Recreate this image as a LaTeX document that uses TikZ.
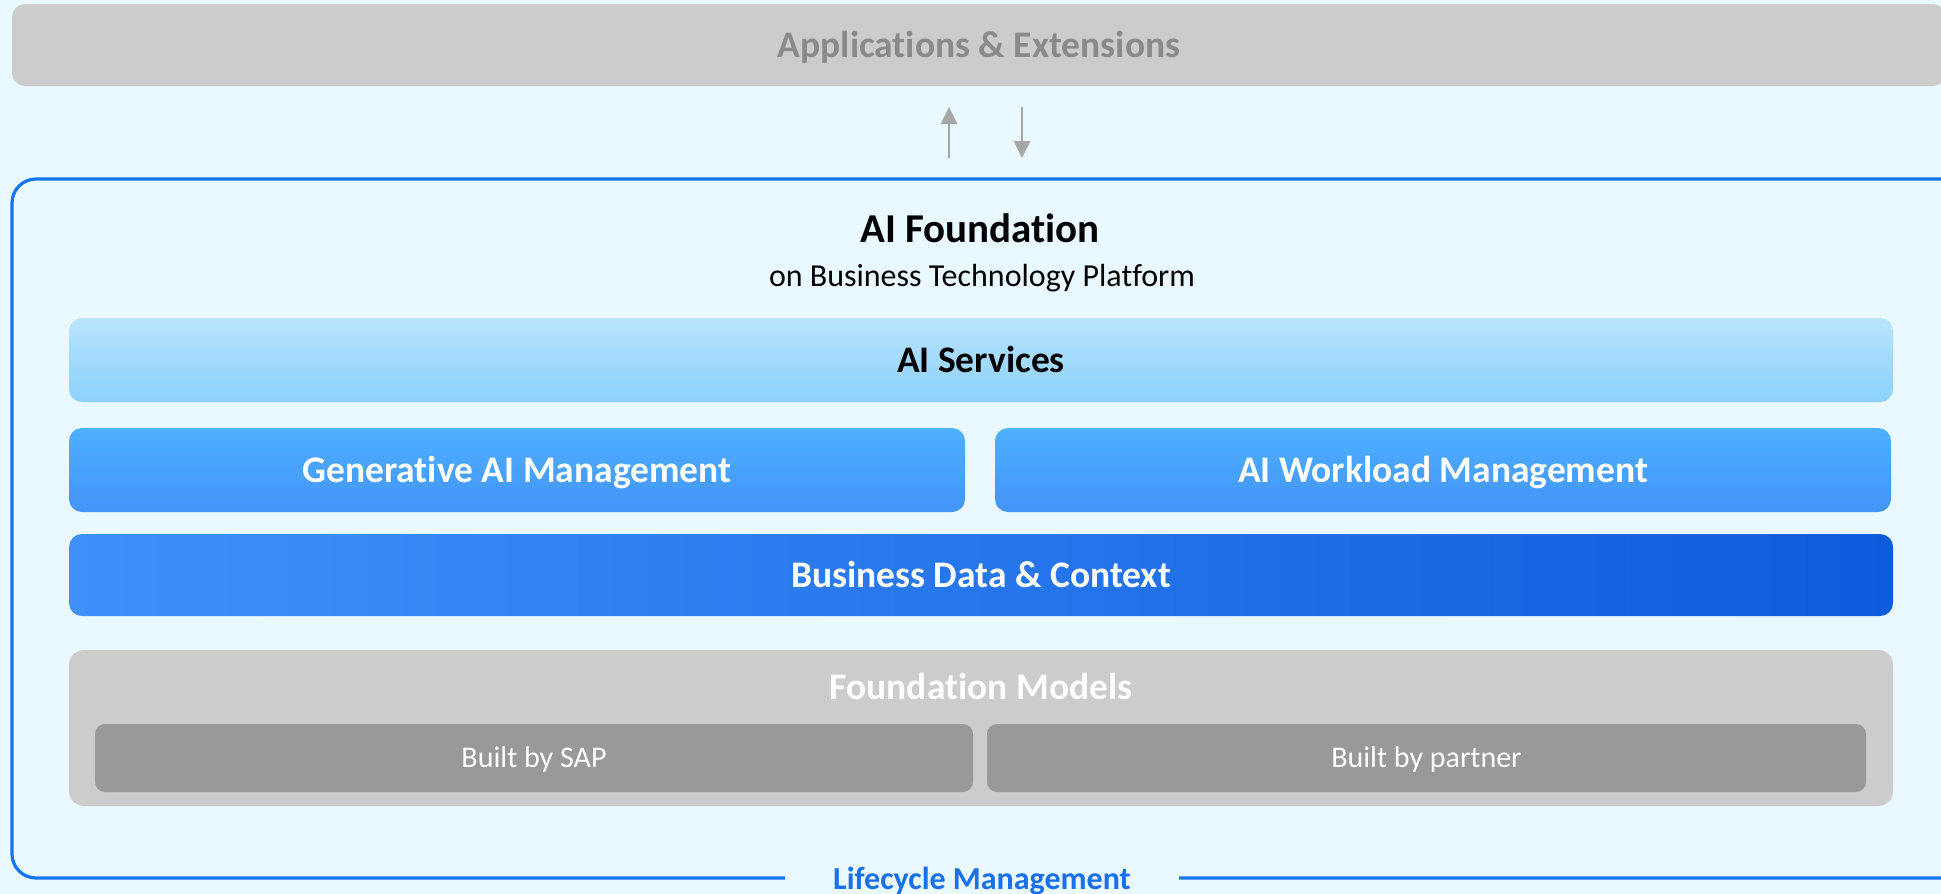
\documentclass[tikz,border=0pt]{standalone}
\usepackage{fontspec}
\setmainfont[RawFeature=-liga]{Carlito}
\usetikzlibrary{arrows.meta}
\definecolor{bg}{RGB}{234,248,255}
\definecolor{topgray}{RGB}{204,204,204}
\definecolor{toptext}{RGB}{138,138,138}
\definecolor{arrowgray}{RGB}{166,166,166}
\definecolor{frameblue}{RGB}{20,117,240}
\definecolor{svcTop}{RGB}{185,228,253}
\definecolor{svcBot}{RGB}{140,209,252}
\definecolor{mgmtTop}{RGB}{78,176,255}
\definecolor{mgmtBot}{RGB}{67,148,248}
\definecolor{dataL}{RGB}{64,144,250}
\definecolor{dataR}{RGB}{12,92,221}
\definecolor{builtgray}{RGB}{153,153,153}
\definecolor{lcblue}{RGB}{24,112,235}
\tikzset{
  layerbox/.style={rectangle, inner sep=0pt, rounded corners=13pt,
    font=\fontsize{37.5}{45}\bfseries\selectfont, text height=24.2pt, text depth=0pt},
  builtbox/.style={rectangle, inner sep=0pt, rounded corners=10pt, fill=builtgray,
    text=white, font=\fontsize{30}{36}\selectfont, text height=19.3pt, text depth=0pt},
  flowarrow/.style={draw=arrowgray, line width=2.6pt, -{Triangle[width=16pt,length=17pt]}}
}
\begin{document}
\begin{tikzpicture}[x=1pt,y=-1pt]
\useasboundingbox (0,0) rectangle (1941,894);
\fill[bg] (0,0) rectangle (1941,894);

% top applications box
\node[layerbox, fill=topgray, text=toptext, minimum width=1934pt, minimum height=82pt]
  (apps) at (979,45) {Applications \& Extensions};

% arrows
\coordinate (upS) at (949,158);
\coordinate (upE) at (949,107);
\coordinate (dnS) at (1022,107);
\coordinate (dnE) at (1022,158);
\draw[flowarrow] (upS) -- (upE);
\draw[flowarrow] (dnS) -- (dnE);

% frame
\coordinate (frL) at (785,878);
\coordinate (frR) at (1179,878);
\draw[frameblue, line width=3.2pt, rounded corners=24pt]
  (frL) -- (12,878) -- (12,179) -- (1965,179) -- (1965,878) -- (frR);
\node[anchor=base, text=lcblue, font=\fontsize{32}{38}\bfseries\selectfont]
  (lc) at (982,889) {Lifecycle Management};

% titles
\node[anchor=base, font=\fontsize{41}{49}\bfseries\selectfont] (title) at (980,242) {AI Foundation};
\node[anchor=base, font=\fontsize{32}{38}\selectfont] (subtitle) at (982,286) {on Business Technology Platform};

% layers
\node[layerbox, top color=svcTop, bottom color=svcBot, text=black,
  minimum width=1824pt, minimum height=84pt] (svc) at (981,360) {AI Services};
\node[layerbox, top color=mgmtTop, bottom color=mgmtBot, text=white,
  minimum width=896pt, minimum height=84pt] (gen) at (517,470) {Generative AI Management};
\node[layerbox, top color=mgmtTop, bottom color=mgmtBot, text=white,
  minimum width=896pt, minimum height=84pt] (wl) at (1443,470) {AI Workload Management};
\node[layerbox, left color=dataL, right color=dataR, text=white,
  minimum width=1824pt, minimum height=82pt] (data) at (981,575) {Business Data \& Context};

% foundation models
\node[rectangle, rounded corners=15pt, fill=topgray, inner sep=0pt,
  minimum width=1824pt, minimum height=156pt] (fm) at (981,728) {};
\node[anchor=base, text=white, font=\fontsize{37.5}{45}\bfseries\selectfont]
  (fmtext) at (981,699) {Foundation Models};
\node[builtbox, minimum width=878pt, minimum height=68pt] (sap) at (534,758) {Built by SAP};
\node[builtbox, minimum width=879pt, minimum height=68pt] (partner) at (1426.5,758) {Built by partner};
\end{tikzpicture}
\end{document}
